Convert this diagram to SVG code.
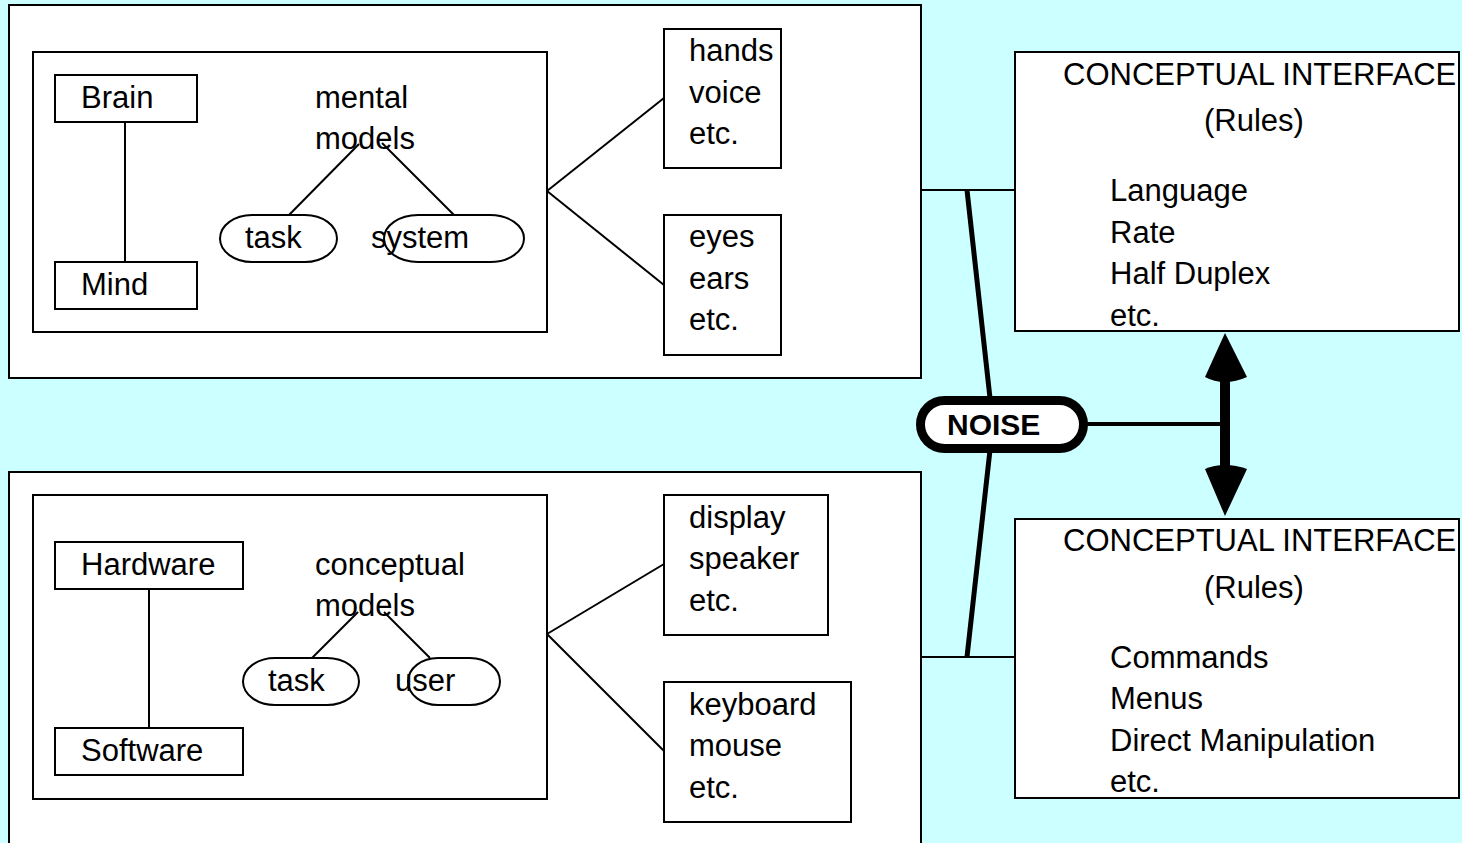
<svg xmlns="http://www.w3.org/2000/svg" width="1462" height="843" viewBox="0 0 1462 843">
<style>
.box{fill:#fff;stroke:#000;stroke-width:2}
.t{font-family:"Liberation Sans",Arial,sans-serif;font-size:31px;fill:#000}
.b{font-family:"Liberation Sans",Arial,sans-serif;font-size:30px;font-weight:bold;fill:#000}
.ln{stroke:#000;stroke-width:2;fill:none}
.thick{stroke:#000;stroke-width:5;fill:none}
</style>
<rect width="1462" height="843" fill="#CCFFFF"/>
<g id="human">
<rect class="box" x="9" y="5" width="912" height="373"/>
<rect class="box" x="33" y="52" width="514" height="280"/>
</g>
<g id="computer">
<rect class="box" x="9" y="472" width="912" height="380"/>
<rect class="box" x="33" y="495" width="514" height="304"/>
</g>
<g id="connectors">
<line class="ln" x1="125" y1="122" x2="125" y2="262"/>
<line class="ln" x1="149" y1="589" x2="149" y2="728"/>
<line class="ln" x1="547" y1="191" x2="664" y2="98"/>
<line class="ln" x1="547" y1="191" x2="664" y2="285"/>
<line class="ln" x1="547" y1="634" x2="664" y2="564"/>
<line class="ln" x1="547" y1="634" x2="664" y2="751"/>
<line class="ln" x1="921" y1="190" x2="1015" y2="190"/>
<line class="ln" x1="921" y1="657" x2="1015" y2="657"/>
<line class="thick" x1="967" y1="190" x2="990" y2="398"/>
<line class="thick" x1="990" y1="450" x2="967" y2="657"/>
<line x1="1085" y1="424" x2="1222" y2="424" stroke="#000" stroke-width="4"/>
<rect x="1220" y="378" width="10" height="92" fill="#000"/>
<path d="M1225,333 L1247,377 Q1236,382 1225,382 Q1214,382 1205,377 Z" fill="#000"/>
<path d="M1225,516 L1247,469 Q1236,465 1225,465 Q1214,465 1205,469 Z" fill="#000"/>
</g>
<g id="brain">
<rect class="box" x="55" y="75" width="142" height="47"/>
<text class="t" x="81" y="108">Brain</text>
</g>
<g id="mind">
<rect class="box" x="55" y="262" width="142" height="47"/>
<text class="t" x="81" y="295">Mind</text>
</g>
<g id="mental-models">
<rect class="box" x="220" y="215" width="117" height="47" rx="32" ry="23.5"/>
<rect class="box" x="384" y="215" width="140" height="47" rx="34" ry="23.5"/>
<line class="ln" x1="359" y1="144" x2="289" y2="215"/>
<line class="ln" x1="382" y1="143" x2="454" y2="215"/>
<text class="t" x="315" y="108">mental</text>
<text class="t" x="315" y="149">models</text>
<text class="t" x="245" y="248">task</text>
<text class="t" x="371" y="248">system</text>
</g>
<g id="hardware">
<rect class="box" x="55" y="542" width="188" height="47"/>
<text class="t" x="81" y="575">Hardware</text>
</g>
<g id="software">
<rect class="box" x="55" y="728" width="188" height="47"/>
<text class="t" x="81" y="761">Software</text>
</g>
<g id="conceptual-models">
<rect class="box" x="243" y="658" width="116" height="47" rx="32" ry="23.5"/>
<rect class="box" x="408" y="658" width="92" height="47" rx="30" ry="23.5"/>
<line class="ln" x1="358" y1="612" x2="312" y2="658"/>
<line class="ln" x1="384" y1="612" x2="430" y2="658"/>
<text class="t" x="315" y="575">conceptual</text>
<text class="t" x="315" y="616">models</text>
<text class="t" x="268" y="691">task</text>
<text class="t" x="395" y="691">user</text>
</g>
<g id="outputs-human">
<rect class="box" x="664" y="29" width="117" height="139"/>
<text class="t" x="689" y="61">hands</text>
<text class="t" x="689" y="103">voice</text>
<text class="t" x="689" y="144">etc.</text>
</g>
<g id="inputs-human">
<rect class="box" x="664" y="215" width="117" height="140"/>
<text class="t" x="689" y="247">eyes</text>
<text class="t" x="689" y="289">ears</text>
<text class="t" x="689" y="330">etc.</text>
</g>
<g id="outputs-computer">
<rect class="box" x="664" y="495" width="164" height="140"/>
<text class="t" x="689" y="528">display</text>
<text class="t" x="689" y="569">speaker</text>
<text class="t" x="689" y="611">etc.</text>
</g>
<g id="inputs-computer">
<rect class="box" x="664" y="682" width="187" height="140"/>
<text class="t" x="689" y="715">keyboard</text>
<text class="t" x="689" y="756">mouse</text>
<text class="t" x="689" y="798">etc.</text>
</g>
<g id="interface-human">
<rect class="box" x="1015" y="52" width="444" height="279"/>
<text class="t" x="1063" y="85">CONCEPTUAL INTERFACE</text>
<text class="t" x="1204" y="131">(Rules)</text>
<text class="t" x="1110" y="201">Language</text>
<text class="t" x="1110" y="243">Rate</text>
<text class="t" x="1110" y="284">Half Duplex</text>
<text class="t" x="1110" y="326">etc.</text>
</g>
<g id="interface-computer">
<rect class="box" x="1015" y="519" width="444" height="279"/>
<text class="t" x="1063" y="551">CONCEPTUAL INTERFACE</text>
<text class="t" x="1204" y="598">(Rules)</text>
<text class="t" x="1110" y="668">Commands</text>
<text class="t" x="1110" y="709">Menus</text>
<text class="t" x="1110" y="751">Direct Manipulation</text>
<text class="t" x="1110" y="792">etc.</text>
</g>
<g id="noise">
<rect x="920.5" y="400.5" width="163" height="48" rx="24" fill="#fff" stroke="#000" stroke-width="9"/>
<text class="b" x="947" y="435">NOISE</text>
</g>
</svg>
